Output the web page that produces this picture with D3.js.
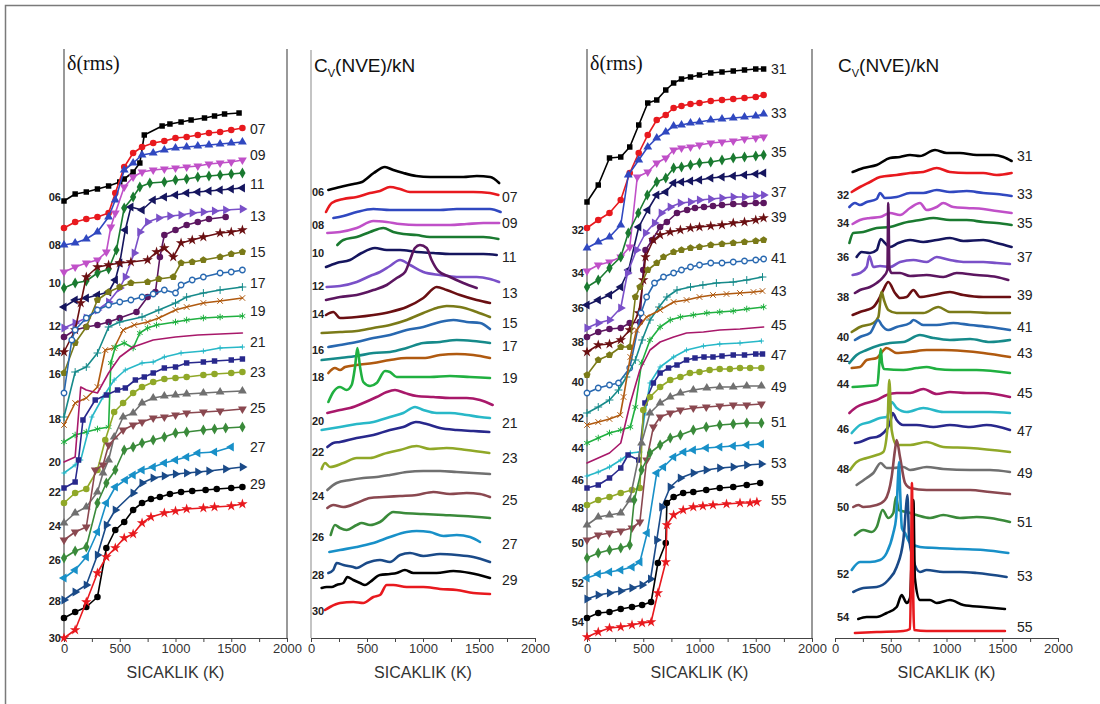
<!DOCTYPE html>
<html>
<head>
<meta charset="utf-8">
<script src="https://cdn.jsdelivr.net/npm/d3@7"></script>
<style>
  body { margin: 0; background: #fff; }
  svg { display: block; font-family: Arial, "Liberation Sans", sans-serif; }
</style>
</head>
<body>
<svg id="chart" width="1100" height="704"></svg>
<script>
// values are stacked offsets (arb. units), temperatures in K

var rmsA = [
  ['06', [[0,43.7],[100,44.4],[200,44.6],[300,44.9],[400,45.2],[500,45.6],[540,45.9],[620,46.6],[680,47.5],[720,50.3],[880,51.2],[950,51.4],[1050,51.6],[1140,51.8],[1260,52.0],[1350,52.2],[1440,52.4],[1570,52.5]]],
  ['07', [[0,41.0],[100,41.6],[200,41.9],[300,42.1],[400,42.5],[460,44.5],[540,47.1],[620,48.5],[700,49.1],[800,49.5],[900,49.7],[1000,50.0],[1100,50.1],[1200,50.3],[1300,50.5],[1400,50.6],[1500,50.8],[1600,51.0]]],
  ['08', [[0,39.3],[100,39.5],[200,39.9],[300,40.6],[400,42.1],[460,43.8],[540,46.8],[620,47.5],[700,48.3],[800,48.5],[900,48.8],[1000,49.0],[1100,49.1],[1200,49.2],[1300,49.3],[1400,49.4],[1500,49.5],[1600,49.6]]],
  ['09', [[0,36.6],[100,37.1],[200,37.5],[300,37.8],[380,38.6],[420,41.1],[460,42.5],[540,45.1],[620,46.1],[700,46.6],[800,46.8],[900,46.9],[1000,47.0],[1100,47.1],[1200,47.2],[1300,47.4],[1400,47.5],[1500,47.6],[1600,47.8]]],
  ['10', [[0,35.0],[100,35.5],[200,35.7],[300,36.5],[400,36.9],[470,38.8],[540,43.0],[620,44.1],[680,45.1],[770,45.5],[900,45.6],[1000,45.8],[1100,45.9],[1200,46.1],[1300,46.2],[1400,46.3],[1500,46.4],[1600,46.5]]],
  ['11', [[0,33.1],[100,33.8],[200,34.0],[300,34.3],[400,34.6],[460,35.8],[500,37.5],[550,40.8],[600,43.1],[700,42.8],[800,43.8],[900,44.1],[1000,44.3],[1100,44.5],[1200,44.6],[1300,44.7],[1400,44.8],[1500,44.9],[1600,45.0]]],
  ['12', [[0,31.0],[100,31.5],[200,32.0],[300,32.8],[400,33.6],[500,35.0],[550,36.1],[630,38.5],[680,40.6],[750,41.6],[850,42.0],[950,42.2],[1050,42.3],[1150,42.5],[1250,42.6],[1350,42.7],[1450,42.8],[1600,42.9]]],
  ['13', [[0,30.1],[100,30.8],[200,31.1],[300,31.3],[400,31.6],[500,32.0],[650,32.6],[750,34.1],[820,34.6],[860,38.1],[900,40.3],[1000,40.8],[1100,41.3],[1200,41.6],[1300,41.9],[1450,42.1]]],
  ['14', [[0,28.6],[100,30.8],[150,33.5],[200,36.1],[300,37.1],[400,37.3],[500,37.5],[600,37.6],[750,37.8],[830,38.6],[900,39.0],[980,38.1],[1050,39.5],[1150,39.8],[1250,40.1],[1400,40.5],[1500,40.6],[1600,40.8]]],
  ['15', [[0,26.5],[100,29.5],[200,31.1],[300,33.8],[400,34.6],[500,35.1],[600,35.5],[750,35.6],[850,35.9],[980,36.1],[1050,37.5],[1150,37.6],[1250,37.8],[1400,38.1],[1500,38.4],[1600,38.6]]],
  ['16', [[0,24.5],[70,29.8],[100,30.8],[200,32.0],[300,32.8],[400,33.3],[500,33.6],[600,33.8],[700,34.1],[800,34.4],[900,34.8],[1000,34.5],[1050,35.3],[1150,35.8],[1250,36.1],[1400,36.5],[1500,36.6],[1600,36.8]]],
  ['17', [[0,22.1],[100,26.6],[200,27.1],[300,28.5],[400,31.1],[500,31.6],[700,32.1],[850,32.8],[1000,33.5],[1100,34.1],[1250,34.5],[1400,34.8],[1600,35.1]]],
  ['18', [[0,21.3],[100,23.5],[200,24.0],[300,25.1],[370,28.8],[450,29.0],[530,30.8],[630,31.3],[750,31.6],[850,32.0],[1000,32.8],[1100,33.1],[1250,33.5],[1400,33.7],[1600,34.0]]],
  ['19', [[0,19.6],[100,20.3],[200,20.6],[300,20.9],[400,21.1],[420,27.5],[460,29.1],[540,29.5],[620,29.0],[680,30.5],[750,31.0],[830,31.3],[1000,31.6],[1100,31.8],[1250,32.0],[1400,32.1],[1600,32.2]]],
  ['20', [[0,17.6],[100,18.1],[150,25.1],[200,24.8],[300,24.5],[400,26.5],[500,28.1],[620,29.1],[800,29.8],[1000,30.1],[1200,30.3],[1400,30.4],[1600,30.5]]],
  ['21', [[0,16.5],[100,17.3],[150,17.8],[250,22.1],[350,24.1],[450,25.8],[550,26.8],[700,27.5],[800,27.6],[900,28.1],[1050,28.5],[1250,28.7],[1400,29.0],[1600,29.1]]],
  ['22', [[0,15.0],[100,15.6],[130,17.8],[170,21.8],[280,23.8],[380,24.3],[480,24.8],[550,25.0],[640,25.8],[720,26.1],[800,26.5],[900,27.0],[1000,27.1],[1100,27.5],[1250,27.6],[1350,27.7],[1500,27.8],[1600,27.9]]],
  ['23', [[0,13.5],[100,14.5],[200,14.9],[300,16.8],[370,19.8],[450,22.6],[530,23.5],[620,24.5],[700,25.1],[800,25.6],[900,25.9],[1000,26.0],[1100,26.1],[1250,26.3],[1350,26.4],[1500,26.5],[1600,26.6]]],
  ['24', [[0,11.5],[100,12.5],[200,13.1],[300,14.6],[350,16.5],[400,17.8],[450,20.1],[530,22.1],[620,22.5],[700,23.5],[800,24.0],[900,24.2],[1000,24.3],[1100,24.4],[1250,24.5],[1400,24.6],[1600,24.7]]],
  ['25', [[0,9.8],[100,10.6],[200,11.1],[280,16.8],[350,17.3],[400,19.3],[530,20.8],[620,21.3],[700,21.6],[800,22.0],[900,22.1],[1000,22.3],[1100,22.5],[1250,22.6],[1400,22.7],[1600,22.9]]],
  ['26', [[0,8.0],[100,8.7],[200,9.1],[300,13.5],[380,15.5],[460,16.8],[540,18.8],[620,19.1],[700,19.5],[800,19.8],[900,20.1],[1000,20.5],[1100,20.6],[1250,20.8],[1350,20.9],[1450,21.0],[1600,21.1]]],
  ['27', [[0,6.0],[100,6.8],[200,8.1],[300,10.6],[380,13.5],[460,15.1],[550,15.8],[620,16.3],[700,16.8],[800,17.1],[900,17.5],[1000,17.8],[1100,18.1],[1200,18.5],[1350,18.6],[1500,19.1]]],
  ['28', [[0,3.8],[100,4.6],[200,5.3],[300,8.3],[380,11.3],[460,12.8],[620,14.5],[700,15.5],[800,16.0],[900,16.2],[1000,16.4],[1100,16.5],[1200,16.6],[1300,16.7],[1450,16.9],[1600,17.1]]],
  ['29', [[0,2.0],[100,2.6],[200,3.1],[300,4.1],[380,9.0],[460,10.8],[540,11.6],[620,12.8],[700,13.5],[780,13.9],[860,14.1],[950,14.4],[1050,14.6],[1150,14.7],[1270,14.8],[1370,14.9],[1500,15.0],[1600,15.1]]],
  ['30', [[0,0.0],[100,0.8],[200,3.6],[300,6.5],[380,8.1],[460,9.0],[540,10.0],[620,10.4],[700,11.5],[780,12.1],[900,12.5],[1000,12.7],[1100,12.9],[1250,13.0],[1350,13.1],[1500,13.2],[1600,13.4]]]
];

var rmsB = [
  ['31', [[0,43.6],[100,45.3],[200,48.0],[300,48.1],[380,49.1],[460,51.3],[540,53.5],[620,53.8],[700,54.8],[770,55.5],[840,55.9],[920,56.1],[1000,56.3],[1100,56.5],[1200,56.6],[1300,56.7],[1400,56.8],[1500,56.9],[1570,56.9]]],
  ['32', [[0,41.0],[100,41.8],[200,42.5],[300,43.8],[380,46.5],[460,48.5],[540,50.3],[620,51.8],[700,52.3],[770,53.0],[840,53.2],[920,53.4],[1000,53.5],[1100,53.7],[1200,53.8],[1300,53.9],[1400,54.0],[1500,54.1],[1570,54.3]]],
  ['33', [[0,39.0],[100,39.6],[200,40.1],[300,41.3],[367,46.3],[460,47.8],[540,49.1],[620,50.0],[700,50.6],[770,51.2],[840,51.3],[920,51.5],[1000,51.6],[1100,51.8],[1200,51.9],[1300,52.0],[1400,52.1],[1500,52.2],[1570,52.4]]],
  ['34', [[0,36.7],[100,37.3],[200,37.6],[300,38.1],[380,39.1],[447,46.1],[540,46.6],[620,47.5],[700,48.0],[770,48.8],[840,49.0],[920,49.1],[1000,49.3],[1100,49.5],[1200,49.6],[1300,49.7],[1400,49.9],[1500,50.0],[1570,50.1]]],
  ['35', [[0,35.1],[100,35.8],[200,37.0],[300,38.1],[367,40.5],[456,42.5],[536,44.3],[620,45.6],[700,46.0],[770,47.0],[840,47.1],[920,47.3],[1000,47.5],[1100,47.6],[1200,47.8],[1300,48.0],[1400,48.1],[1500,48.2],[1570,48.3]]],
  ['36', [[0,33.3],[100,33.8],[200,34.3],[300,35.1],[370,36.8],[460,41.1],[540,42.8],[620,44.3],[700,44.6],[770,45.5],[840,45.6],[920,45.7],[1000,45.8],[1100,46.0],[1200,46.1],[1300,46.2],[1400,46.3],[1500,46.4],[1570,46.5]]],
  ['37', [[0,31.0],[100,31.5],[200,31.8],[300,33.0],[360,36.5],[440,38.8],[520,40.5],[600,41.5],[660,42.5],[740,43.1],[830,43.5],[920,43.6],[1000,43.8],[1100,43.9],[1200,44.0],[1300,44.1],[1400,44.1],[1500,44.2],[1570,44.3]]],
  ['38', [[0,30.1],[100,30.6],[200,30.9],[300,31.0],[380,31.5],[470,31.6],[500,36.8],[520,38.8],[580,39.8],[650,41.1],[710,41.6],[800,42.5],[890,42.8],[960,43.0],[1040,43.1],[1120,43.2],[1200,43.3],[1300,43.4],[1400,43.4],[1500,43.5],[1570,43.5]]],
  ['39', [[0,28.6],[100,29.3],[200,29.4],[300,29.8],[380,30.8],[460,32.5],[500,35.8],[520,38.1],[590,39.8],[650,40.3],[740,40.6],[830,40.8],[920,41.0],[1000,41.1],[1100,41.2],[1200,41.3],[1300,41.5],[1400,41.6],[1500,41.8],[1570,42.0]]],
  ['40', [[0,26.3],[100,27.8],[200,28.3],[300,29.1],[380,29.1],[430,34.1],[470,35.1],[540,36.8],[620,37.5],[680,38.1],[770,38.6],[840,38.8],[920,39.0],[1000,39.1],[1100,39.3],[1200,39.4],[1300,39.5],[1400,39.6],[1500,39.7],[1570,39.8]]],
  ['41', [[0,24.5],[100,25.0],[200,25.3],[280,25.5],[380,27.0],[480,32.5],[530,34.1],[600,35.5],[680,36.1],[770,36.5],[840,36.8],[920,37.1],[1000,37.3],[1100,37.5],[1200,37.5],[1300,37.6],[1400,37.7],[1500,37.8],[1570,37.9]]],
  ['42', [[0,22.5],[100,23.1],[200,23.8],[280,24.8],[350,26.1],[430,27.8],[490,29.8],[560,31.8],[640,33.1],[710,34.1],[800,34.8],[920,35.1],[1030,35.3],[1150,35.5],[1300,35.6],[1420,35.8],[1560,36.1]]],
  ['43', [[0,21.3],[100,21.6],[200,21.9],[295,22.3],[325,24.1],[385,28.1],[440,30.8],[530,32.1],[650,32.8],[770,33.6],[885,33.8],[1000,34.1],[1120,34.3],[1240,34.4],[1360,34.5],[1480,34.6],[1560,34.7]]],
  ['44', [[0,19.5],[100,20.0],[200,20.5],[300,20.8],[385,21.1],[430,23.1],[485,27.5],[560,29.8],[650,31.1],[740,31.8],[830,32.1],[945,32.3],[1065,32.5],[1180,32.6],[1300,32.7],[1420,32.9],[1570,33.1]]],
  ['45', [[0,17.5],[100,18.0],[200,18.5],[300,19.5],[385,23.5],[470,26.8],[560,28.8],[650,29.6],[770,30.1],[885,30.5],[1035,30.6],[1180,30.8],[1360,30.9],[1570,31.1]]],
  ['46', [[0,16.2],[100,16.6],[200,17.1],[300,17.8],[385,18.5],[470,18.6],[515,22.5],[560,25.5],[650,27.1],[770,28.1],[885,28.8],[1035,29.2],[1180,29.4],[1360,29.5],[1550,29.7]]],
  ['47', [[0,15.0],[100,15.3],[200,16.0],[300,17.0],[365,18.3],[460,17.8],[515,23.5],[590,25.5],[650,26.5],[725,27.0],[800,27.3],[885,27.8],[960,28.0],[1040,28.1],[1120,28.1],[1200,28.2],[1300,28.3],[1400,28.3],[1500,28.4],[1560,28.4]]],
  ['48', [[0,13.3],[100,13.8],[200,14.1],[300,14.5],[400,14.8],[470,15.0],[500,22.8],[560,24.1],[650,25.1],[740,25.8],[830,26.1],[915,26.5],[1000,26.6],[1090,26.8],[1180,26.9],[1270,26.9],[1360,27.0],[1450,27.0],[1550,27.0]]],
  ['49', [[0,11.3],[100,12.1],[200,12.3],[300,12.5],[380,13.8],[485,19.5],[560,22.5],[650,23.5],[740,24.1],[830,24.5],[945,24.8],[1065,25.0],[1180,25.1],[1300,25.1],[1420,25.2],[1550,25.2]]],
  ['50', [[0,9.8],[100,10.3],[200,10.5],[300,10.7],[400,11.0],[470,11.6],[530,17.8],[590,21.1],[650,22.1],[740,22.5],[830,22.8],[945,23.0],[1060,23.1],[1180,23.2],[1300,23.3],[1420,23.3],[1550,23.4]]],
  ['51', [[0,8.0],[100,8.5],[200,8.8],[300,9.0],[380,9.3],[420,13.8],[485,16.8],[560,18.5],[650,19.3],[740,20.0],[830,20.3],[945,20.8],[1060,21.1],[1180,21.3],[1300,21.4],[1420,21.5],[1550,21.5]]],
  ['52', [[0,6.0],[100,6.4],[200,6.6],[300,6.8],[400,7.1],[470,7.6],[535,10.5],[620,16.5],[680,17.1],[770,18.1],[860,18.6],[945,18.8],[1060,19.0],[1180,19.1],[1300,19.2],[1420,19.3],[1550,19.4]]],
  ['53', [[0,3.9],[100,4.3],[200,4.5],[300,4.7],[400,5.0],[490,5.3],[565,5.9],[620,9.8],[665,13.1],[740,15.1],[830,16.0],[945,16.5],[1060,16.8],[1180,17.0],[1300,17.1],[1420,17.3],[1550,17.4]]],
  ['54', [[0,2.0],[100,2.5],[200,2.6],[300,2.9],[400,3.1],[490,3.3],[570,3.6],[630,7.5],[700,9.5],[710,13.5],[770,14.1],[855,14.5],[945,14.6],[1060,14.8],[1180,15.0],[1300,15.1],[1420,15.3],[1540,15.5]]],
  ['55', [[0,0.1],[100,0.6],[200,1.0],[300,1.1],[400,1.3],[490,1.5],[570,1.6],[630,4.5],[700,7.6],[710,11.3],[770,12.3],[855,12.8],[945,13.1],[1030,13.2],[1120,13.3],[1240,13.4],[1360,13.5],[1450,13.5],[1510,13.6]]]
];

var cvA = [
  ['06', [[155,44.8],[260,45.1],[380,45.4],[455,45.6],[560,46.5],[660,47.1],[735,46.8],[825,46.5],[940,46.2],[1065,46.1],[1210,46.1],[1360,46.1],[1480,46.2],[1600,46.1],[1680,45.5]]],
  ['07', [[134,42.6],[185,43.5],[289,43.9],[408,44.1],[527,44.5],[616,44.7],[705,45.1],[795,44.9],[884,44.6],[1003,44.6],[1152,44.6],[1301,44.6],[1449,44.6],[1598,44.5],[1673,44.3]]],
  ['08', [[200,42.0],[289,42.2],[408,42.6],[557,42.9],[705,42.8],[854,42.8],[1003,42.8],[1152,42.8],[1301,42.9],[1449,42.9],[1598,42.9],[1693,42.6]]],
  ['09', [[146,40.5],[259,40.6],[408,41.0],[557,41.7],[676,41.6],[795,41.4],[943,41.3],[1092,41.3],[1241,41.3],[1390,41.4],[1539,41.5],[1680,41.5]]],
  ['10', [[235,39.3],[289,39.8],[408,40.1],[527,40.6],[646,41.0],[735,40.6],[825,40.4],[943,40.3],[1062,40.1],[1241,40.1],[1390,40.1],[1539,40.1],[1673,39.9]]],
  ['11', [[134,37.1],[229,37.5],[348,37.8],[452,38.5],[571,39.0],[676,38.8],[795,38.8],[943,38.6],[1092,38.5],[1241,38.4],[1390,38.4],[1539,38.4],[1658,38.3]]],
  ['12', [[140,35.1],[259,35.2],[408,35.6],[527,36.2],[616,36.6],[705,37.2],[795,37.8],[884,37.3],[1003,36.6],[1152,36.3],[1301,36.1],[1479,36.1],[1598,35.9],[1680,35.6]]],
  ['13', [[134,33.8],[259,34.1],[408,34.3],[557,34.8],[676,35.3],[765,36.0],[840,36.6],[884,37.8],[928,39.0],[973,39.3],[1033,39.0],[1077,37.8],[1137,36.7],[1241,36.1],[1360,35.5],[1479,35.0]]],
  ['14', [[134,32.3],[199,32.6],[259,32.0],[408,32.1],[557,32.3],[705,32.6],[854,33.1],[1003,34.0],[1122,35.1],[1211,34.8],[1330,34.3],[1479,33.8],[1598,33.5]]],
  ['15', [[95,30.5],[259,30.6],[408,30.7],[557,31.0],[705,31.3],[854,31.8],[1003,32.5],[1122,33.0],[1211,33.2],[1330,33.1],[1479,32.6],[1598,32.1]]],
  ['16', [[155,29.1],[259,29.3],[408,29.6],[557,30.0],[705,30.3],[854,30.8],[1003,31.1],[1152,31.6],[1271,31.8],[1390,31.6],[1509,31.5],[1598,30.9]]],
  ['17', [[95,27.8],[259,28.0],[408,28.2],[557,28.5],[705,28.6],[854,29.0],[1003,29.5],[1152,29.6],[1301,29.8],[1449,29.7],[1598,29.5]]],
  ['18', [[155,26.5],[214,27.0],[259,26.8],[304,27.1],[408,27.3],[557,27.5],[705,27.8],[854,28.0],[1003,28.0],[1152,28.3],[1301,28.4],[1449,28.3],[1598,28.0]]],
  ['19', [[155,23.6],[199,24.6],[259,25.1],[318,24.8],[363,25.3],[393,27.1],[414,29.0],[438,27.1],[467,25.6],[527,25.2],[586,25.5],[661,26.7],[705,26.6],[765,26.1],[884,26.1],[1062,26.1],[1241,26.2],[1420,26.1],[1598,26.0]]],
  ['20', [[146,22.5],[259,22.8],[348,23.0],[467,23.5],[586,24.1],[676,24.6],[750,24.8],[839,24.5],[943,24.2],[1092,24.1],[1241,24.0],[1390,24.0],[1509,23.8],[1622,23.3]]],
  ['21', [[95,20.8],[259,21.1],[408,21.4],[557,21.6],[705,22.1],[824,22.5],[929,23.1],[1003,22.8],[1122,22.5],[1241,22.5],[1390,22.3],[1509,22.1],[1598,22.0]]],
  ['22', [[146,19.1],[199,19.5],[259,19.6],[408,20.0],[557,20.3],[705,20.8],[824,21.1],[937,21.6],[1033,21.4],[1152,21.0],[1301,20.8],[1449,20.7],[1592,20.6]]],
  ['23', [[95,16.9],[125,17.5],[170,17.1],[289,17.5],[408,18.0],[527,18.0],[646,18.4],[795,18.8],[943,19.2],[1062,18.9],[1211,19.0],[1390,18.8],[1592,18.5]]],
  ['24', [[146,14.8],[229,15.5],[348,15.8],[467,16.0],[586,16.1],[705,16.3],[854,16.6],[1003,16.7],[1152,16.7],[1301,16.6],[1449,16.5],[1598,16.4]]],
  ['25', [[146,13.0],[199,13.3],[289,13.1],[408,13.5],[527,14.0],[646,14.1],[795,14.2],[943,14.3],[1092,14.6],[1241,14.4],[1390,14.5],[1509,14.4],[1598,14.1]]],
  ['26', [[176,10.3],[214,11.3],[259,11.0],[318,10.8],[408,11.3],[452,11.5],[527,11.3],[616,11.6],[735,12.6],[824,12.5],[1003,12.4],[1182,12.3],[1360,12.2],[1598,12.0]]],
  ['27', [[164,8.6],[259,8.8],[408,9.1],[557,9.5],[705,10.1],[854,10.6],[943,10.7],[1062,10.6],[1182,10.2],[1301,10.3],[1420,10.1],[1509,9.6]]],
  ['28', [[155,6.5],[199,6.8],[229,7.5],[289,7.3],[378,7.1],[408,7.0],[497,7.5],[616,7.8],[705,7.6],[795,8.3],[884,8.5],[1003,8.2],[1152,8.4],[1301,8.3],[1449,8.1],[1598,7.6]]],
  ['29', [[95,5.0],[140,5.1],[185,5.1],[229,5.3],[289,5.5],[324,6.1],[378,5.8],[438,5.5],[482,5.3],[527,5.6],[616,6.3],[705,6.4],[765,6.5],[839,6.8],[914,6.5],[1003,6.5],[1122,6.5],[1271,6.7],[1420,6.5],[1598,6.0]]],
  ['30', [[125,2.8],[170,3.1],[259,3.5],[378,3.6],[467,3.5],[557,4.1],[616,4.3],[676,5.3],[735,5.3],[854,5.1],[1003,5.1],[1152,4.9],[1301,4.8],[1449,4.5],[1598,4.4]]]
];

var cvB = [
  ['31', [[158,46.6],[254,47.0],[374,47.3],[493,48.0],[583,48.1],[673,48.3],[762,48.2],[897,48.8],[1001,48.5],[1121,48.5],[1271,48.3],[1420,48.3],[1510,48.1],[1584,47.7]]],
  ['32', [[150,44.6],[224,45.1],[314,45.6],[404,46.1],[553,46.3],[673,46.5],[792,46.6],[912,47.0],[1031,46.6],[1181,46.5],[1330,46.5],[1450,46.3],[1584,46.5]]],
  ['33', [[129,43.1],[179,43.5],[224,43.3],[284,43.6],[374,43.9],[404,44.5],[448,44.0],[553,44.1],[673,44.5],[792,44.5],[912,44.8],[1031,44.6],[1181,44.7],[1330,44.5],[1450,44.4],[1584,44.2]]],
  ['34', [[158,41.4],[224,41.8],[314,42.0],[404,42.1],[493,42.5],[583,42.3],[673,43.0],[762,43.5],[822,42.8],[912,43.1],[971,43.5],[1061,43.1],[1181,43.0],[1330,42.9],[1450,42.7],[1584,42.5]]],
  ['35', [[129,39.5],[164,40.5],[254,40.6],[374,41.0],[493,41.1],[613,41.5],[762,41.8],[882,42.0],[1031,41.8],[1181,41.8],[1330,41.6],[1450,41.5],[1584,41.3]]],
  ['36', [[194,38.1],[239,38.6],[314,38.5],[374,38.8],[410,39.9],[448,39.5],[493,39.1],[568,39.5],[673,39.8],[792,39.6],[912,39.8],[1031,40.0],[1151,39.7],[1330,39.8],[1450,39.5],[1584,39.1]]],
  ['37', [[158,36.3],[224,36.5],[284,37.1],[308,38.2],[344,37.1],[404,37.2],[493,37.1],[583,37.6],[703,37.8],[822,37.6],[912,38.1],[1031,37.8],[1151,37.6],[1330,37.6],[1450,37.5],[1569,37.4]]],
  ['38', [[179,34.5],[224,34.8],[314,35.1],[374,35.5],[433,36.1],[470,36.8],[478,43.5],[488,37.0],[508,36.5],[583,36.5],[673,36.2],[822,36.3],[971,36.1],[1091,36.5],[1270,36.3],[1450,36.1],[1554,35.8]]],
  ['39', [[158,32.3],[224,32.6],[284,32.8],[344,33.1],[389,33.8],[433,34.8],[478,35.6],[538,34.5],[583,34.0],[643,34.1],[703,34.8],[762,34.1],[882,34.3],[1031,34.6],[1151,34.3],[1330,34.1],[1569,34.1]]],
  ['40', [[150,30.6],[224,31.1],[344,31.5],[389,32.1],[418,34.6],[439,33.8],[478,32.8],[553,32.5],[673,32.5],[792,32.5],[927,33.1],[1031,32.6],[1211,32.6],[1390,32.5],[1569,32.5]]],
  ['41', [[179,29.8],[224,30.1],[314,30.5],[389,31.8],[418,31.3],[478,30.8],[553,31.1],[673,31.5],[703,31.8],[792,31.3],[912,31.3],[1061,31.5],[1211,31.3],[1390,31.1],[1569,30.8]]],
  ['42', [[129,27.5],[194,28.3],[284,28.8],[404,29.3],[493,29.5],[613,29.6],[762,30.3],[882,30.0],[1031,29.8],[1211,29.9],[1390,29.6],[1569,29.8]]],
  ['43', [[150,27.0],[224,27.1],[284,27.8],[374,28.0],[463,29.0],[553,28.5],[673,28.6],[822,28.8],[971,28.8],[1151,28.7],[1330,28.5],[1569,28.1]]],
  ['44', [[158,25.1],[284,25.2],[380,25.3],[398,27.5],[410,28.9],[422,27.5],[440,26.9],[613,26.8],[732,27.0],[822,27.1],[912,26.9],[1061,26.8],[1270,26.8],[1569,26.5]]],
  ['45', [[129,22.5],[194,23.1],[284,23.5],[374,23.8],[463,24.3],[553,24.5],[673,24.5],[792,24.9],[912,24.4],[1031,24.6],[1181,24.5],[1330,24.5],[1569,24.1]]],
  ['46', [[150,20.5],[224,21.3],[314,21.6],[404,22.0],[463,22.1],[508,23.6],[553,23.0],[643,22.6],[792,23.0],[971,22.6],[1181,22.6],[1390,22.6],[1569,22.5]]],
  ['47', [[179,19.5],[224,19.6],[314,20.0],[374,20.1],[433,20.5],[493,21.5],[517,22.5],[553,21.8],[613,21.3],[732,21.3],[882,21.1],[1031,21.3],[1211,21.1],[1360,21.3],[1569,20.8]]],
  ['48', [[135,16.8],[194,17.6],[284,18.0],[374,18.3],[433,18.6],[469,20.8],[487,25.8],[508,20.8],[553,19.3],[673,19.3],[822,19.6],[971,19.1],[1211,19.0],[1569,18.6]]],
  ['49', [[194,15.3],[284,16.0],[344,16.5],[410,17.5],[463,17.0],[523,17.0],[613,17.1],[673,16.8],[822,17.1],[971,16.9],[1211,16.8],[1390,16.8],[1569,16.6]]],
  ['50', [[164,13.1],[209,13.3],[254,13.1],[374,13.3],[448,13.8],[508,16.1],[538,18.8],[553,19.8],[583,18.1],[628,15.5],[673,15.0],[822,14.8],[1031,14.8],[1211,14.8],[1390,14.6],[1569,14.4]]],
  ['51', [[179,10.3],[254,10.8],[329,10.6],[374,11.1],[427,12.8],[478,12.0],[523,12.5],[547,14.1],[572,12.8],[643,12.6],[732,12.3],[852,12.0],[971,12.3],[1121,12.0],[1270,12.1],[1390,12.0],[1569,11.6]]],
  ['52', [[150,6.8],[224,7.6],[314,7.6],[404,7.8],[463,8.5],[523,10.5],[548,12.0],[565,16.0],[574,17.6],[583,15.0],[600,11.0],[628,10.5],[673,9.5],[762,9.1],[912,9.0],[1121,8.9],[1330,8.8],[1554,8.5]]],
  ['53', [[164,4.6],[254,5.0],[374,5.1],[478,5.8],[553,7.1],[613,9.8],[635,12.8],[649,14.3],[665,10.0],[703,7.8],[762,6.6],[822,6.8],[971,6.6],[1121,6.6],[1270,6.5],[1539,6.1]]],
  ['54', [[209,1.9],[284,2.1],[374,2.1],[463,2.5],[553,3.1],[598,4.3],[643,3.5],[673,4.0],[690,9.0],[703,13.8],[716,6.0],[762,3.8],[852,3.8],[912,3.5],[1031,3.8],[1151,3.3],[1330,3.1],[1524,2.9]]],
  ['55', [[179,0.5],[374,0.6],[613,0.7],[673,0.9],[683,8.0],[690,15.5],[697,8.0],[710,0.8],[822,0.7],[1121,0.7],[1524,0.7]]]
];

// series labels: [text, offset level]
var rmsALeft = [['06',44.1],['08',39.3],['10',35.5],['12',31.2],['14',28.6],['16',26.4],['18',21.9],['20',17.6],['22',14.6],['24',11.2],['26',7.8],['28',3.7],['30',0.0]];
var rmsARight = [['07',50.9],['09',48.3],['11',45.4],['13',42.2],['15',38.6],['17',35.5],['19',32.7],['21',29.6],['23',26.6],['25',23.0],['27',19.1],['29',15.4]];
var cvALeft = [['06',44.6],['08',41.3],['10',38.5],['12',35.2],['14',32.4],['16',28.8],['18',26.1],['20',21.7],['22',18.6],['24',14.2],['26',10.1],['28',6.3],['30',2.7]];
var cvARight = [['07',44.1],['09',41.5],['11',38.1],['13',34.5],['15',31.5],['17',29.2],['19',26.0],['21',21.5],['23',18.0],['25',13.8],['27',9.4],['29',5.8]];
var rmsBLeft = [['32',40.8],['34',36.5],['36',33.0],['38',29.6],['40',25.6],['42',22.0],['44',19.0],['46',15.8],['48',13.0],['50',9.5],['52',5.5],['54',1.6]];
var rmsBRight = [['31',56.9],['33',52.5],['35',48.6],['37',44.6],['39',42.1],['41',38.0],['43',34.7],['45',31.3],['47',28.3],['49',25.1],['51',21.6],['53',17.5],['55',13.8]];
var cvBLeft = [['32',44.3],['34',41.5],['36',38.1],['38',34.1],['40',30.1],['42',28.0],['44',25.4],['46',20.9],['48',16.9],['50',13.1],['52',6.4],['54',2.1]];
var cvBRight = [['31',48.2],['33',44.4],['35',41.5],['37',38.1],['39',34.3],['41',31.1],['43',28.5],['45',24.5],['47',20.7],['49',16.5],['51',11.6],['53',6.2],['55',1.1]];

var xTicks = [0, 500, 1000, 1500, 2000];

// colour / marker cycle, same for 06-30 and 31-55
var colors = ['#000000','#e8191e','#3048c0','#c050c8','#1a7a30','#15155e','#7a50c8','#5c1660','#6a0f12','#7a7a18',
  '#2868b0','#168a8a','#b05a10','#20b040','#a8186a','#28b8c8','#28288c','#90a828','#707070','#8a4850',
  '#3a8a3a','#1890c8','#1a4a88','#000000','#e8191e'];
var markers = ['square','circle','triUp','triDown','diamond','triLeft','triRight','circle','star','pentagon',
  'ocircle','plus','x','asterisk','none','tick','square','circle','triUp','triDown',
  'diamond','triLeft','triRight','circle','star'];

var pentagon = {
  draw: function(ctx, size) {
    var r = Math.sqrt(size / 2.38);
    for (var i = 0; i < 5; i++) {
      var a = -Math.PI / 2 + i * 2 * Math.PI / 5;
      if (i === 0) ctx.moveTo(r * Math.cos(a), r * Math.sin(a));
      else ctx.lineTo(r * Math.cos(a), r * Math.sin(a));
    }
    ctx.closePath();
  }
};
var markerDefs = {
  square: { t: d3.symbolSquare, s: 30 },
  circle: { t: d3.symbolCircle, s: 34 },
  triUp: { t: d3.symbolTriangle, s: 34 },
  triDown: { t: d3.symbolTriangle, s: 34, r: 180 },
  triLeft: { t: d3.symbolTriangle, s: 34, r: -90 },
  triRight: { t: d3.symbolTriangle, s: 34, r: 90 },
  diamond: { t: d3.symbolDiamond, s: 34 },
  star: { t: d3.symbolStar, s: 34 },
  pentagon: { t: pentagon, s: 34 },
  ocircle: { t: d3.symbolCircle, s: 24, open: true },
  plus: { t: d3.symbolPlus || d3.symbolCross, s: 22, line: true },
  x: { t: d3.symbolTimes || d3.symbolX || d3.symbolCross, s: 22, line: true },
  asterisk: { t: d3.symbolAsterisk || d3.symbolWye, s: 30, line: true },
  tick: { t: d3.symbolPlus || d3.symbolCross, s: 10, line: true }
};

var panels = [
  { data: rmsA, left: rmsALeft, right: rmsARight, x0: 64, x1: 287, kind: 'rms', frame: 'box', rightT: 1668, leftAnchor: 'end', leftDx: -3 },
  { data: cvA, left: cvALeft, right: cvARight, x0: 311, x1: 535, kind: 'cv', frame: 'gray', rightT: 1705, leftAnchor: 'start', leftDx: 1 },
  { data: rmsB, left: rmsBLeft, right: rmsBRight, x0: 587, x1: 812, kind: 'rms', frame: 'box', rightT: 1636, leftAnchor: 'end', leftDx: -3 },
  { data: cvB, left: cvBLeft, right: cvBRight, x0: 835, x1: 1058, kind: 'cv', frame: 'none', rightT: 1632, leftAnchor: 'start', leftDx: 2 }
];

var svg = d3.select('#chart');
var axisY = 638, topY = 49;

// outer frame
svg.append('rect')
  .attr('x', 5.5).attr('y', 5.5)
  .attr('width', 1110).attr('height', 720)
  .attr('fill', 'none').attr('stroke', '#7a7a7a').attr('stroke-width', 1.5);

var y = d3.scaleLinear().domain([0, 59]).range([axisY, topY - 1]);

panels.forEach(function(p) {
  var x = d3.scaleLinear().domain([0, 2000]).range([p.x0, p.x1]);
  var g = svg.append('g');

  // frame lines
  if (p.frame === 'box') {
    g.append('line').attr('x1', p.x0).attr('x2', p.x0).attr('y1', topY).attr('y2', axisY)
      .attr('stroke', '#555').attr('stroke-width', 1.2);
    g.append('line').attr('x1', p.x1).attr('x2', p.x1).attr('y1', topY).attr('y2', axisY)
      .attr('stroke', '#555').attr('stroke-width', 1.2);
  } else if (p.frame === 'gray') {
    g.append('line').attr('x1', p.x0).attr('x2', p.x0).attr('y1', topY + 1).attr('y2', axisY)
      .attr('stroke', '#b0b0b0').attr('stroke-width', 1.5);
  }

  // x axis
  var xAxis = d3.axisBottom(x)
    .tickValues(d3.range(0, 2001, 250))
    .tickSizeInner(4)
    .tickSizeOuter(0)
    .tickPadding(2)
    .tickFormat(function(d) { return xTicks.indexOf(d) > -1 ? d : ''; });
  var ax = g.append('g')
    .attr('transform', 'translate(0,' + axisY + ')')
    .call(xAxis);
  ax.select('.domain').attr('stroke', '#444').attr('stroke-width', 1.2);
  ax.selectAll('.tick line').attr('stroke', '#444');
  ax.selectAll('.tick text')
    .attr('fill', '#333')
    .style('font-size', '13px')
    .style('font-family', 'Arial, "Liberation Sans", sans-serif');

  g.append('text')
    .attr('x', (p.x0 + p.x1) / 2)
    .attr('y', 678)
    .attr('text-anchor', 'middle')
    .attr('fill', '#333')
    .style('font-size', '16px')
    .text('SICAKLIK (K)');

  // panel title
  if (p.kind === 'rms') {
    g.append('text')
      .attr('x', p.x0 + 3).attr('y', 70)
      .attr('fill', '#111')
      .style('font-family', '"Liberation Serif", "Times New Roman", serif')
      .style('font-size', '20px')
      .text('δ(rms)');
  } else {
    var t = g.append('text')
      .attr('x', p.x0 + 3).attr('y', 72)
      .attr('fill', '#111')
      .style('font-size', '19px');
    t.append('tspan').text('C');
    t.append('tspan').attr('dy', 5).style('font-size', '11px').text('V');
    t.append('tspan').attr('dy', -5).text('(NVE)/kN');
  }

  var line = d3.line()
    .x(function(d) { return x(d[0]); })
    .y(function(d) { return y(d[1]); });
  if (p.kind === 'cv') line.curve(d3.curveMonotoneX);

  p.data.forEach(function(s, i) {
    var col = colors[i];
    g.append('path')
      .datum(s[1])
      .attr('d', line)
      .attr('fill', 'none')
      .attr('stroke', col)
      .attr('stroke-width', p.kind === 'cv' ? 2.6 : 1.6)
      .attr('stroke-linejoin', 'round')
      .attr('stroke-linecap', 'round');

    if (p.kind !== 'rms' || markers[i] === 'none') return;
    var m = markerDefs[markers[i]];
    var sym = d3.symbol().type(m.t).size(m.s);
    g.selectAll(null)
      .data(s[1])
      .enter()
      .append('path')
      .attr('d', sym)
      .attr('transform', function(d) {
        return 'translate(' + x(d[0]) + ',' + y(d[1]) + ')' + (m.r ? ' rotate(' + m.r + ')' : '');
      })
      .attr('fill', m.line ? 'none' : (m.open ? '#fff' : col))
      .attr('stroke', (m.line || m.open) ? col : 'none')
      .attr('stroke-width', m.open ? 1.3 : 1);
  });

  // series numbers
  g.selectAll(null)
    .data(p.left)
    .enter()
    .append('text')
    .attr('x', p.x0 + p.leftDx)
    .attr('y', function(d) { return y(d[1]); })
    .attr('dy', '0.35em')
    .attr('text-anchor', p.leftAnchor)
    .attr('fill', '#222')
    .style('font-size', '11px')
    .style('font-weight', 'bold')
    .text(function(d) { return d[0]; });

  g.selectAll(null)
    .data(p.right)
    .enter()
    .append('text')
    .attr('x', x(p.rightT))
    .attr('y', function(d) { return y(d[1]); })
    .attr('dy', '0.35em')
    .attr('fill', '#222')
    .style('font-size', '14px')
    .text(function(d) { return d[0]; });
});
</script>
</body>
</html>
